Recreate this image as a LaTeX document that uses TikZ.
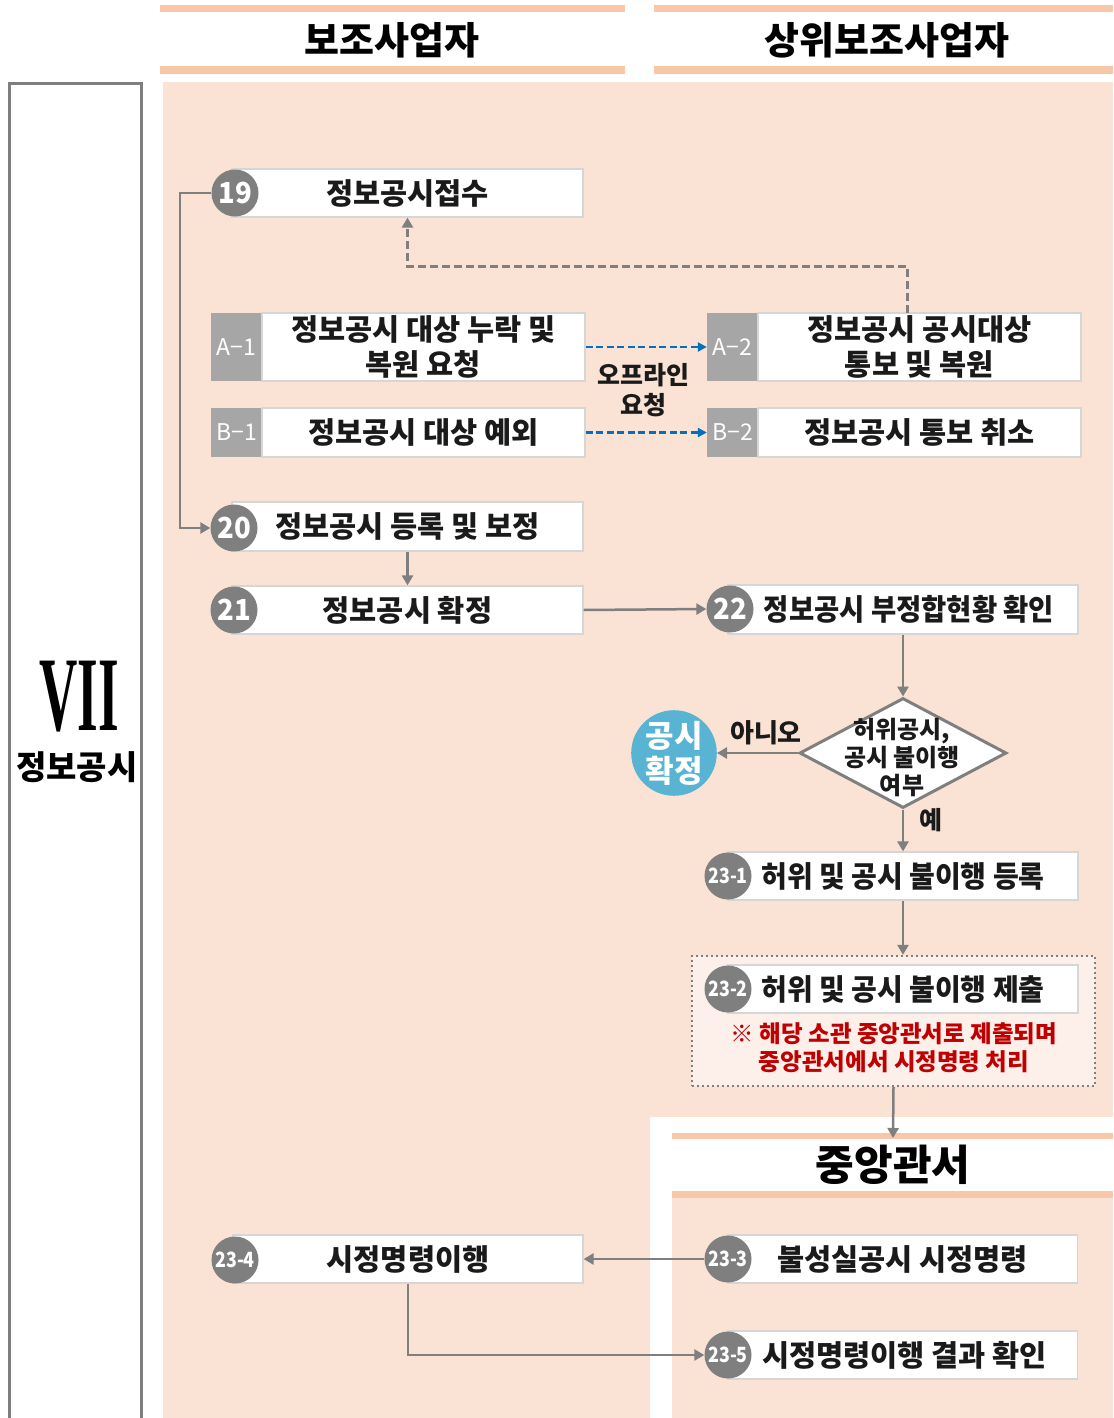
\documentclass[tikz,border=0pt]{standalone}
\usepackage{graphicx}
\usepackage{fontspec}
\setmainfont{Noto Sans CJK KR}
\newfontfamily\romfont{Liberation Serif}
\usetikzlibrary{arrows.meta,shapes.geometric,calc}
\definecolor{peach}{RGB}{250,227,213}
\definecolor{barc}{RGB}{247,199,168}
\definecolor{gcirc}{RGB}{127,127,127}
\definecolor{glab}{RGB}{166,166,166}
\definecolor{bline}{RGB}{214,214,214}
\definecolor{ablue}{RGB}{0,112,192}
\definecolor{cblue}{RGB}{88,180,210}
\definecolor{dotfill}{RGB}{253,240,234}
\definecolor{redt}{RGB}{192,0,0}
\definecolor{txt}{RGB}{26,26,26}
\tikzset{
  wbox/.style={draw=bline, line width=1.2pt, fill=white, inner sep=0pt, text=txt,
    font=\bfseries\fontsize{29.5}{35}\selectfont, align=center},
  numc/.style={circle, fill=gcirc, minimum size=47pt, inner sep=0pt, text=white,
    font=\bfseries\fontsize{29}{29}\selectfont},
  subc/.style={numc, font=\bfseries\fontsize{21}{21}\selectfont},
  glabel/.style={fill=glab, inner sep=0pt, text=white, font=\fontsize{23}{23}\selectfont,
    minimum width=51pt},
  flow/.style={draw=gcirc, line width=2.5pt, -{Triangle[length=10pt,width=11pt]}},
  bflow/.style={draw=ablue, line width=2.4pt, dash pattern=on 7pt off 3.5pt,
    -{Triangle[length=9pt,width=9pt]}},
  hdr/.style={font=\bfseries\fontsize{38}{38}\selectfont, text=black, inner sep=0pt},
  lbl/.style={font=\bfseries\fontsize{25}{30}\selectfont, text=txt, align=center, inner sep=0pt}
}
\begin{document}
\begin{tikzpicture}[x=1pt,y=-1pt]
\useasboundingbox (0,0) rectangle (1113,1418);
\clip (0,0) rectangle (1113,1418);
\fill[white] (0,0) rectangle (1113,1418);
% main peach area
\fill[peach] (163,82) rectangle (1113,1418);
\fill[white] (650,1117) rectangle (1113,1418);
\fill[peach] (672,1198) rectangle (1113,1418);
% header bars
\fill[barc] (160,5) rectangle (625,12);
\fill[barc] (160,66) rectangle (625,74);
\fill[barc] (654,5) rectangle (1113,12);
\fill[barc] (654,66) rectangle (1113,74);
\fill[barc] (672,1133) rectangle (1113,1139);
\fill[barc] (672,1191) rectangle (1113,1198);
\node[hdr] (h1) at (392,40) {보조사업자};
\node[hdr] (h2) at (887,40) {상위보조사업자};
\node[hdr, font=\bfseries\fontsize{42}{42}\selectfont] (h3) at (893,1165) {중앙관서};
\coordinate (h3top) at (893,1138);
% left chapter box
\draw[gcirc, line width=3pt] (9.5,83.5) rectangle (141.5,1440);
\node[inner sep=0pt, font=\romfont\bfseries\fontsize{106}{106}\selectfont] (rom) at (79,697) {\scalebox{0.5}[1]{VII}};
\node[inner sep=0pt, font=\bfseries\fontsize{33}{33}\selectfont] (chap) at (77,767) {정보공시};

% boxes
\node[wbox, minimum width=351pt, minimum height=48pt] (b19) at (407.5,193) {정보공시접수};
\node[glabel, minimum height=68pt] (a1g) at (236.5,347) {A−1};
\node[wbox, minimum width=323pt, minimum height=68pt] (a1w) at (423.5,347) {정보공시 대상 누락 및\\복원 요청};
\node[glabel, minimum height=49pt] (b1g) at (236.5,432.5) {B−1};
\node[wbox, minimum width=323pt, minimum height=49pt] (b1w) at (423.5,432.5) {정보공시 대상 예외};
\node[glabel, minimum height=68pt] (a2g) at (732.5,347) {A−2};
\node[wbox, minimum width=323pt, minimum height=68pt] (a2w) at (919.5,347) {정보공시 공시대상\\통보 및 복원};
\node[glabel, minimum height=49pt] (b2g) at (732.5,432.5) {B−2};
\node[wbox, minimum width=323pt, minimum height=49pt] (b2w) at (919.5,432.5) {정보공시 통보 취소};
\node[wbox, minimum width=351pt, minimum height=49pt] (b20) at (407.5,526.5) {정보공시 등록 및 보정};
\node[wbox, minimum width=351pt, minimum height=48pt] (b21) at (407.5,610) {정보공시 확정};
\node[wbox, minimum width=350pt, minimum height=49pt] (b22) at (903,609.5) {\hspace*{12pt}\scalebox{0.93}[1]{정보공시 부정합현황 확인}};
\node[wbox, minimum width=350pt, minimum height=48pt] (b231) at (903,876) {\scalebox{0.95}[1]{허위 및 공시 불이행 등록}};
\node[draw=gcirc, dash pattern=on 2.2pt off 2.8pt, line width=2.4pt, fill=dotfill,
  minimum width=403pt, minimum height=130pt, inner sep=0pt] (dotbox) at (893.5,1021) {};
\node[wbox, minimum width=350pt, minimum height=48pt] (b232) at (903,989) {\scalebox{0.95}[1]{허위 및 공시 불이행 제출}};
\node[lbl, font=\bfseries\fontsize{23.5}{28}\selectfont, text=redt] (note) at (894,1048) {※ 해당 소관 중앙관서로 제출되며\\중앙관서에서 시정명령 처리};
\node[wbox, minimum width=350pt, minimum height=48pt] (b233) at (902.5,1259) {불성실공시 시정명령};
\node[wbox, minimum width=350pt, minimum height=48pt] (b235) at (902.5,1355) {\hspace*{4pt}시정명령이행 결과 확인};
\node[wbox, minimum width=350pt, minimum height=48pt] (b234) at (408,1259) {시정명령이행};

% diamond and confirm circle
\node[diamond, draw=gcirc, line width=3pt, fill=white, minimum width=207pt,
  minimum height=110pt, inner sep=0pt] (dia) at (903,753) {};
\node[lbl, font=\bfseries\fontsize{24}{28}\selectfont] (diat) at (902,758) {허위공시,\\공시 불이행\\여부};
\node[circle, fill=cblue, minimum size=79pt, inner sep=0pt, text=white, align=center,
  font=\bfseries\fontsize{31}{35}\selectfont] (conf) at (674,753) {공시\\확정};

% number circles
\node[numc] (c19) at (235,193) {\scalebox{0.95}[1]{19}};
\node[numc] (c20) at (234,528) {\scalebox{0.95}[1]{20}};
\node[numc] (c21) at (234,610) {\scalebox{0.95}[1]{21}};
\node[numc] (c22) at (730,609) {\scalebox{0.95}[1]{22}};
\node[subc] (c231) at (728,876) {\scalebox{0.85}[1]{23-1}};
\node[subc] (c232) at (728,989) {\scalebox{0.85}[1]{23-2}};
\node[subc] (c233) at (728,1259) {\scalebox{0.85}[1]{23-3}};
\node[subc] (c235) at (728,1355) {\scalebox{0.85}[1]{23-5}};
\node[subc] (c234) at (235,1260) {\scalebox{0.85}[1]{23-4}};

% labels
\node[lbl] (offl) at (643,390) {오프라인\\요청};
\node[lbl, font=\bfseries\fontsize{26}{26}\selectfont] (no) at (766,733) {아니오};
\node[lbl] (yes) at (931,820) {예};

% connectors
\coordinate (dstart) at (907,313);
\draw[draw=gcirc, line width=3pt, dash pattern=on 8pt off 4pt, -{Triangle[length=10pt,width=11pt]}]
  (dstart) -- (907,266) -| (b19.south);
\draw[bflow] (a1w.east) -- (a2g.west);
\draw[bflow] (b1w.east) -- (b2g.west);
\draw[flow] (c19.west) -- (180,193) |- (c20.west);
\draw[flow] (b20.south) -- (b21.north);
\draw[flow] (b21.east) -- (c22.west);
\draw[flow] (b22.south) -- (dia.north);
\draw[flow] (dia.west) -- (conf.east);
\draw[flow] (dia.south) -- (b231.north);
\draw[flow] (b231.south) -- (b231.south |- dotbox.north);
\draw[flow] (dotbox.south) -- (h3top);
\draw[flow] (c233.west) -- (b234.east);
\draw[flow] (b234.south) |- (c235.west);
\end{tikzpicture}
\end{document}
